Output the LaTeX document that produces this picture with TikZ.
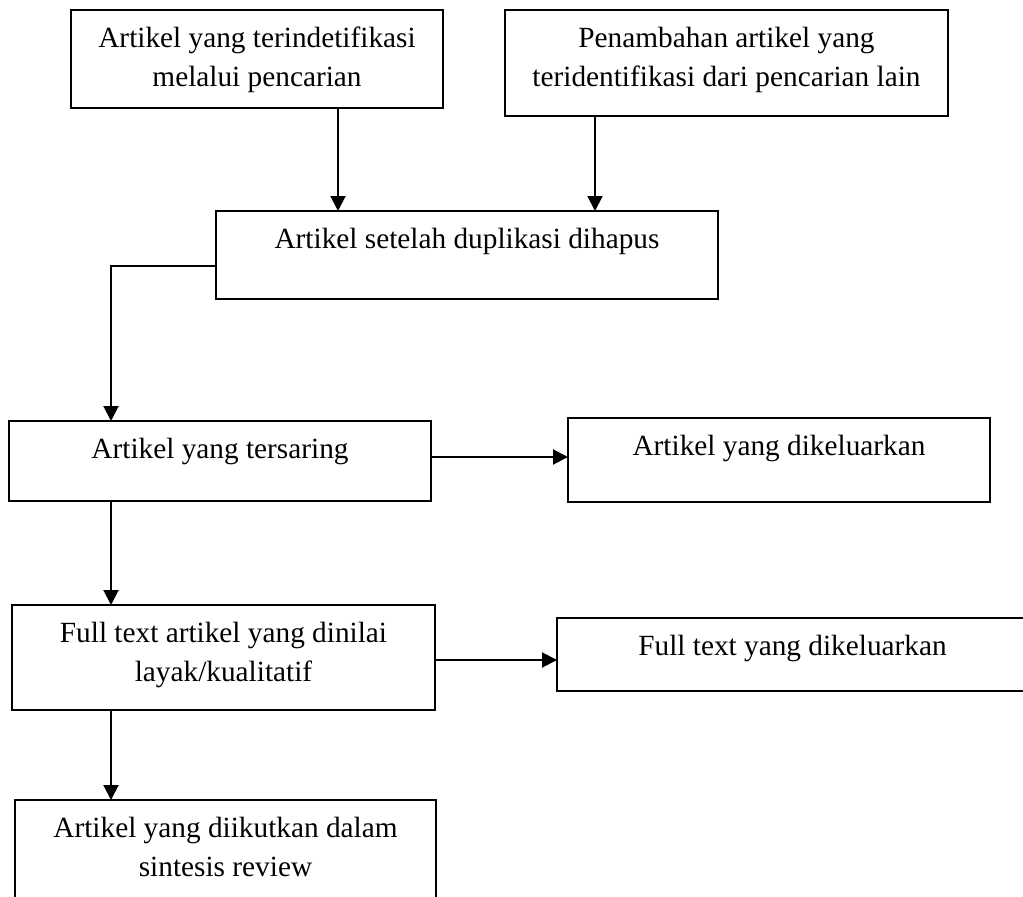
\documentclass[tikz,border=0pt]{standalone}
\usepackage{fontspec}
\setmainfont{Liberation Serif}
\usetikzlibrary{arrows.meta}
\tikzset{
  box/.style={draw, line width=1.5pt, inner sep=0pt, outer sep=0pt, anchor=north west},
  txt/.style={align=center, inner sep=0pt, anchor=base, font=\fontsize{29.3}{39}\selectfont},
  arr/.style={line width=2pt, -{Triangle[length=15pt,width=15pt]}}
}
\begin{document}
\begin{tikzpicture}[x=1pt,y=-1pt]
\useasboundingbox (0,0) rectangle (1023,897);
\clip (0,0) rectangle (1023,897);
\fill[white] (0,0) rectangle (1023,897);
% boxes
\node[box, minimum width=372pt, minimum height=98pt] (b1) at (71,10) {};
\node[box, minimum width=443pt, minimum height=106pt] (b2) at (505,10) {};
\node[box, minimum width=502pt, minimum height=88pt] (b3) at (216,211) {};
\node[box, minimum width=422pt, minimum height=80pt] (b4) at (9,421) {};
\node[box, minimum width=422pt, minimum height=84pt] (b5) at (568,418) {};
\node[box, minimum width=423pt, minimum height=105pt] (b6) at (12,605) {};
\node[box, minimum width=471pt, minimum height=73pt] (b7) at (557,618) {};
\node[box, minimum width=421pt, minimum height=120pt] (b8) at (15,800) {};
% texts (base anchor = baseline of last line)
\node[txt] (t1) at ([yshift=-76.5pt]b1.north) {Artikel yang terindetifikasi\\melalui pencarian};
\node[txt] (t2) at ([yshift=-76.5pt]b2.north) {Penambahan artikel yang\\teridentifikasi dari pencarian lain};
\node[txt] (t3) at ([yshift=-37.5pt]b3.north) {Artikel setelah duplikasi dihapus};
\node[txt] (t4) at ([yshift=-37.5pt]b4.north) {Artikel yang tersaring};
\node[txt] (t5) at ([yshift=-37.5pt]b5.north) {Artikel yang dikeluarkan};
\node[txt] (t6) at ([yshift=-76.5pt]b6.north) {Full text artikel yang dinilai\\layak/kualitatif};
\node[txt] (t7) at ([yshift=-37.5pt]b7.north) {Full text yang dikeluarkan};
\node[txt] (t8) at ([yshift=-76.5pt]b8.north) {Artikel yang diikutkan dalam\\sintesis review};
% helper coordinates
\coordinate (c1) at (338,0);
\coordinate (c2) at (595,0);
\coordinate (k) at (111,266);
\coordinate (h4) at (0,457);
\coordinate (h6) at (0,660);
% connectors
\draw[arr] (c1 |- b1.south) -- (c1 |- b3.north);
\draw[arr] (c2 |- b2.south) -- (c2 |- b3.north);
\draw[arr] (k -| b3.west) -- (k) -- (k |- b4.north);
\draw[arr] (h4 -| b4.east) -- (h4 -| b5.west);
\draw[arr] (k |- b4.south) -- (k |- b6.north);
\draw[arr] (h6 -| b6.east) -- (h6 -| b7.west);
\draw[arr] (k |- b6.south) -- (k |- b8.north);
\end{tikzpicture}
\end{document}
